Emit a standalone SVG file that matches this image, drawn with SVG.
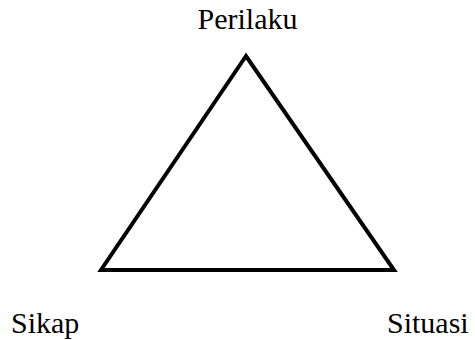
<svg xmlns="http://www.w3.org/2000/svg" width="475" height="340" viewBox="0 0 475 340">
<style>
text{font-family:"Liberation Serif","Times New Roman",serif;font-size:30px;fill:#000}
.edge{stroke:#000;stroke-width:4;fill:none;stroke-linejoin:miter}
</style>
<rect width="475" height="340" fill="#fff"/>
<g id="connectors">
<polygon class="edge" points="246,56 101,270 394,270"/>
</g>
<g id="perilaku"><text x="247.5" y="29" text-anchor="middle">Perilaku</text></g>
<g id="sikap"><text x="11" y="333">Sikap</text></g>
<g id="situasi"><text x="387" y="333">Situasi</text></g>
</svg>
